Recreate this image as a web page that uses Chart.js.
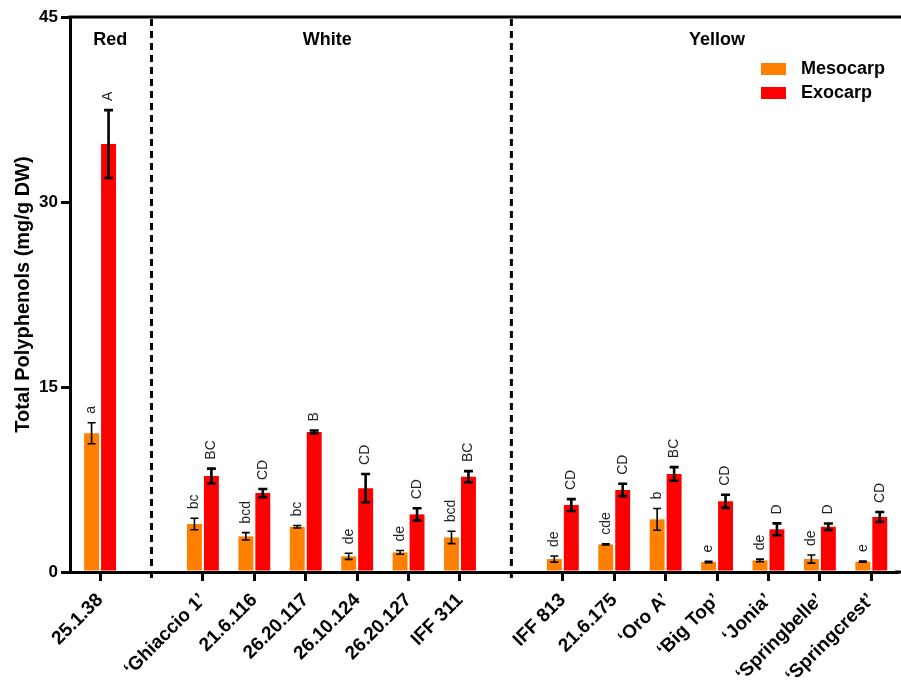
<!DOCTYPE html>
<html><head><meta charset="utf-8">
<script src="https://cdn.jsdelivr.net/npm/chart.js@4.4.1/dist/chart.umd.min.js"></script>
<style>html,body{margin:0;padding:0;background:#fff;}#wrap{width:901px;height:682px;}</style>
</head><body><div id="wrap"><canvas id="c" width="901" height="682"></canvas></div>
<script>
const categories = ["25.1.38", "", "\u2018Ghiaccio 1\u2019", "21.6.116", "26.20.117", "26.10.124", "26.20.127", "IFF 311", "", "IFF 813", "21.6.175", "\u2018Oro A\u2019", "\u2018Big Top\u2019", "\u2018Jonia\u2019", "\u2018Springbelle\u2019", "\u2018Springcrest\u2019"];
const mesocarp   = [11.25, null, 3.89, 2.89, 3.67, 1.27, 1.59, 2.80, null, 1.05, 2.24, 4.27, 0.81, 0.94, 1.05, 0.84];
const mesocarpSE = [0.85, null, 0.47, 0.30, 0.10, 0.25, 0.15, 0.50, null, 0.25, 0.05, 0.88, 0.05, 0.10, 0.33, 0.05];
const exocarp    = [34.7, null, 7.78, 6.40, 11.35, 6.80, 4.67, 7.73, null, 5.43, 6.65, 7.95, 5.73, 3.46, 3.67, 4.46];
const exocarpSE  = [2.75, null, 0.60, 0.33, 0.12, 1.15, 0.50, 0.45, null, 0.48, 0.50, 0.55, 0.53, 0.48, 0.26, 0.40];
const mesoLetters = ["a", null, "bc", "bcd", "bc", "de", "de", "bcd", null, "de", "cde", "b", "e", "de", "de", "e"];
const exoLetters  = ["A", null, "BC", "CD", "B", "CD", "CD", "BC", null, "CD", "CD", "BC", "CD", "D", "D", "CD"];
const groupLabels = ["Red", "White", "Yellow"];
const groupCenters = [0.2, 4.42, 12];
const yTicks = [0, 15, 30, 45];
const seriesNames = ["Mesocarp", "Exocarp"];
const seriesColors = ["#FF8000", "#FF0000"];

const FONT = "'Liberation Sans', Arial, sans-serif";

function build(vals, se, letters) {
  const out = [];
  vals.forEach((v, i) => { if (v !== null) out.push({x: i, y: v, e: se[i], l: letters[i]}); });
  return out;
}

const decor = {
  id: 'decor',
  afterDatasetsDraw(chart) {
    const ctx = chart.ctx, ys = chart.scales.y;
    const lws = [1.6, 2.6], caps = [4, 4.5];
    chart.data.datasets.forEach((ds, di) => {
      const meta = chart.getDatasetMeta(di);
      meta.data.forEach((bar, k) => {
        const raw = ds.data[k];
        const x = bar.x;
        const yt = ys.getPixelForValue(raw.y + raw.e);
        const yb = ys.getPixelForValue(raw.y - raw.e);
        ctx.save();
        ctx.strokeStyle = '#000';
        ctx.lineWidth = lws[di];
        ctx.beginPath();
        ctx.moveTo(x, yt); ctx.lineTo(x, yb);
        ctx.moveTo(x - caps[di], yt); ctx.lineTo(x + caps[di], yt);
        ctx.moveTo(x - caps[di], yb); ctx.lineTo(x + caps[di], yb);
        ctx.stroke();
        ctx.restore();
        ctx.save();
        ctx.translate(x, yt - 9);
        ctx.rotate(-Math.PI / 2);
        ctx.font = "14px " + FONT;
        ctx.fillStyle = '#222';
        ctx.textAlign = 'left';
        ctx.textBaseline = 'middle';
        ctx.fillText(raw.l, 0, 0);
        ctx.restore();
      });
    });
  },
  afterDraw(chart) {
    const ctx = chart.ctx, xs = chart.scales.x, ca = chart.chartArea;
    ctx.save();
    ctx.strokeStyle = '#000';
    ctx.lineWidth = 3;
    ctx.beginPath();
    ctx.moveTo(ca.left - 1.5, ca.top); ctx.lineTo(901, ca.top);
    ctx.moveTo(ca.right - 2, ca.bottom); ctx.lineTo(901, ca.bottom);
    ctx.stroke();
    ctx.setLineDash([7, 5]);
    categories.forEach((c, i) => {
      if (c === '') {
        const x = xs.getPixelForValue(i);
        ctx.beginPath();
        ctx.moveTo(x, ca.top + 2); ctx.lineTo(x, ca.bottom + 10);
        ctx.stroke();
      }
    });
    ctx.setLineDash([]);
    ctx.fillStyle = '#000';
    ctx.font = "bold 18px " + FONT;
    ctx.textAlign = 'center';
    ctx.textBaseline = 'middle';
    groupLabels.forEach((g, i) => ctx.fillText(g, xs.getPixelForValue(groupCenters[i]), 40));
    seriesNames.forEach((n, i) => {
      const y = 69 + i * 24;
      ctx.fillStyle = seriesColors[i];
      ctx.fillRect(761, y - 6, 25, 12);
      ctx.fillStyle = '#000';
      ctx.textAlign = 'left';
      ctx.fillText(n, 801, y);
    });
    ctx.restore();
  }
};

new Chart(document.getElementById('c'), {
  type: 'bar',
  data: {
    datasets: [
      {label: seriesNames[0], data: build(mesocarp, mesocarpSE, mesoLetters), backgroundColor: seriesColors[0], borderWidth: 0},
      {label: seriesNames[1], data: build(exocarp, exocarpSE, exoLetters), backgroundColor: seriesColors[1], borderWidth: 0}
    ]
  },
  options: {
    responsive: false,
    devicePixelRatio: 1,
    animation: false,
    categoryPercentage: 0.66,
    barPercentage: 0.88,
    layout: {padding: {top: 17, right: 4, left: 0, bottom: 0}},
    plugins: {legend: {display: false}, tooltip: {enabled: false}},
    scales: {
      x: {
        type: 'linear',
        offset: false,
        min: -0.585,
        max: 15.5,
        afterBuildTicks: (s) => { s.ticks = categories.map((_, i) => ({value: i})); },
        afterFit: (s) => { s.height = 110; },
        ticks: {
          autoSkip: false,
          minRotation: 45,
          maxRotation: 45,
          padding: 8,
          color: '#000',
          font: {family: FONT, size: 19, weight: 'bold'},
          callback: (v) => categories[v] ?? ''
        },
        grid: {
          offset: false,
          drawOnChartArea: false,
          tickLength: 9,
          lineWidth: 3,
          color: (c) => (categories[c.index] === '' ? 'rgba(0,0,0,0)' : '#000')
        },
        border: {color: '#000', width: 3}
      },
      y: {
        min: 0,
        max: 45,
        afterBuildTicks: (s) => { s.ticks = yTicks.map(v => ({value: v})); },
        afterFit: (s) => { s.width = 70; },
        ticks: {color: '#000', font: {family: FONT, size: 17, weight: 'bold'}, padding: 3},
        grid: {drawOnChartArea: false, tickLength: 9, lineWidth: 3, color: '#000'},
        border: {color: '#000', width: 3},
        title: {
          display: true,
          text: 'Total Polyphenols (mg/g DW)',
          color: '#000',
          font: {family: FONT, size: 20, weight: 'bold'},
          padding: {top: 11, bottom: 0}
        }
      }
    }
  },
  plugins: [decor]
});
</script></body></html>
